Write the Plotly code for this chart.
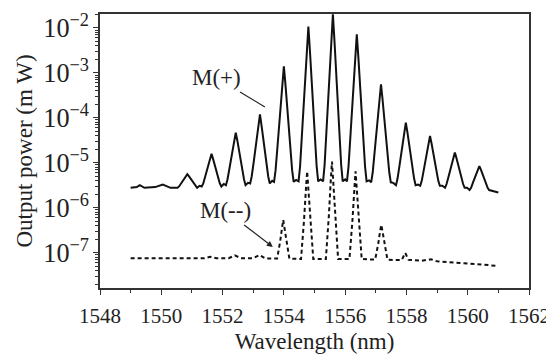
import plotly.graph_objects as go

# M(+) spectrum (solid line): wavelength (nm) and output power (mW)
wl_plus = [1549.0, 1549.2, 1549.3, 1549.45, 1549.8, 1550.05, 1550.3,
           1550.53, 1550.58, 1550.65, 1550.73, 1550.80, 1550.85, 1550.90, 1550.97, 1551.05, 1551.12, 1551.17,
           1551.25,
           1551.32, 1551.37, 1551.44, 1551.52, 1551.59, 1551.64, 1551.69, 1551.76, 1551.84, 1551.91, 1551.96,
           1552.04,
           1552.11, 1552.16, 1552.23, 1552.31, 1552.38, 1552.43, 1552.48, 1552.55, 1552.63, 1552.70, 1552.75,
           1552.83,
           1552.90, 1552.95, 1553.02, 1553.10, 1553.17, 1553.22, 1553.27, 1553.34, 1553.42, 1553.49, 1553.54,
           1553.62,
           1553.68, 1553.73, 1553.80, 1553.88, 1553.95, 1554.00, 1554.05, 1554.12, 1554.20, 1554.27, 1554.32,
           1554.40,
           1554.48, 1554.53, 1554.60, 1554.68, 1554.75, 1554.80, 1554.85, 1554.92, 1555.00, 1555.07, 1555.12,
           1555.20,
           1555.28, 1555.33, 1555.40, 1555.48, 1555.55, 1555.60, 1555.65, 1555.72, 1555.80, 1555.87, 1555.92,
           1556.00,
           1556.06, 1556.11, 1556.18, 1556.26, 1556.33, 1556.38, 1556.43, 1556.50, 1556.58, 1556.65, 1556.70,
           1556.78,
           1556.85, 1556.90, 1556.97, 1557.05, 1557.12, 1557.17, 1557.22, 1557.29, 1557.37, 1557.44, 1557.49,
           1557.57,
           1557.66, 1557.71, 1557.78, 1557.86, 1557.93, 1557.98, 1558.03, 1558.10, 1558.18, 1558.25, 1558.30,
           1558.38,
           1558.45, 1558.50, 1558.57, 1558.65, 1558.72, 1558.77, 1558.82, 1558.89, 1558.97, 1559.04, 1559.09,
           1559.17,
           1559.26, 1559.31, 1559.38, 1559.46, 1559.53, 1559.58, 1559.63, 1559.70, 1559.78, 1559.85, 1559.90,
           1559.98,
           1560.06, 1560.11, 1560.18, 1560.26, 1560.33, 1560.38, 1560.43, 1560.50, 1560.58, 1560.65, 1560.70,
           1560.85, 1561.0]
p_plus = [2.8e-6, 2.9e-6, 3.2e-6, 2.8e-6, 2.9e-6, 3.3e-6, 2.8e-6,
          2.8e-6, 3.0e-6, 3.5e-6, 4.3e-6, 5.1e-6, 5.6e-6, 5.1e-6, 4.3e-6, 3.5e-6, 3.0e-6, 2.8e-6,
          3.1e-6,
          3.0e-6, 3.5e-6, 5.2e-6, 8.1e-6, 1.23e-5, 1.6e-5, 1.23e-5, 8.1e-6, 5.2e-6, 3.5e-6, 3.0e-6,
          3.4e-6,
          3.2e-6, 4.3e-6, 7.9e-6, 1.6e-5, 3.2e-5, 4.7e-5, 3.2e-5, 1.6e-5, 7.9e-6, 4.3e-6, 3.2e-6,
          3.6e-6,
          3.5e-6, 5.0e-6, 1.1e-5, 2.9e-5, 6.9e-5, 1.2e-4, 6.9e-5, 2.9e-5, 1.1e-5, 5.0e-6, 3.5e-6,
          4.0e-6,
          3.8e-6, 6.9e-6, 2.7e-5, 1.3e-4, 5.8e-4, 1.4e-3, 5.8e-4, 1.3e-4, 2.7e-5, 6.9e-6, 3.8e-6,
          4.2e-6,
          3.9e-6, 8.5e-6, 5.5e-5, 4.5e-4, 3.2e-3, 1.07e-2, 3.2e-3, 4.5e-4, 5.5e-5, 8.5e-6, 3.9e-6,
          4.3e-6,
          3.9e-6, 9.1e-6, 6.8e-5, 6.5e-4, 5.4e-3, 2.0e-2, 5.4e-3, 6.5e-4, 6.8e-5, 9.1e-6, 3.9e-6,
          4.3e-6,
          3.9e-6, 8.3e-6, 4.8e-5, 3.5e-4, 2.3e-3, 7.2e-3, 2.3e-3, 3.5e-4, 4.8e-5, 8.3e-6, 3.9e-6,
          4.1e-6,
          3.7e-6, 6.2e-6, 2.0e-5, 7.6e-5, 2.6e-4, 5.6e-4, 2.6e-4, 7.6e-5, 2.0e-5, 6.2e-6, 3.7e-6,
          3.6e-6,
          3.2e-6, 4.5e-6, 9.3e-6, 2.2e-5, 4.9e-5, 7.9e-5, 4.9e-5, 2.2e-5, 9.3e-6, 4.5e-6, 3.2e-6,
          3.3e-6,
          3.1e-6, 4.0e-6, 7.2e-6, 1.45e-5, 2.7e-5, 4.0e-5, 2.7e-5, 1.45e-5, 7.2e-6, 4.0e-6, 3.1e-6,
          3.1e-6,
          2.8e-6, 3.4e-6, 5.1e-6, 8.3e-6, 1.3e-5, 1.7e-5, 1.3e-5, 8.3e-6, 5.1e-6, 3.4e-6, 2.8e-6,
          2.8e-6,
          2.5e-6, 2.8e-6, 3.8e-6, 5.2e-6, 7.1e-6, 8.5e-6, 7.1e-6, 5.2e-6, 3.8e-6, 2.8e-6, 2.5e-6,
          2.3e-6, 2.2e-6]

# M(-) spectrum (dotted line)
wl_minus = [1549.0, 1551.4, 1551.6, 1551.8, 1552.2, 1552.4, 1552.6, 1553.0, 1553.2, 1553.4,
            1553.78, 1553.82, 1553.88, 1553.94, 1553.98, 1554.02, 1554.08, 1554.14, 1554.18,
            1554.56, 1554.60, 1554.66, 1554.72, 1554.76, 1554.80, 1554.86, 1554.92, 1554.96,
            1555.37, 1555.41, 1555.47, 1555.53, 1555.57, 1555.61, 1555.67, 1555.73, 1555.77,
            1556.14, 1556.18, 1556.24, 1556.30, 1556.34, 1556.38, 1556.44, 1556.50, 1556.54,
            1556.98, 1557.02, 1557.08, 1557.14, 1557.18, 1557.22, 1557.28, 1557.34, 1557.38,
            1557.6, 1557.85, 1557.96, 1558.07, 1558.5, 1558.8, 1559.0, 1559.5, 1560.0, 1560.5, 1561.0]
p_minus = [7.6e-8, 7.6e-8, 8.2e-8, 7.6e-8, 7.6e-8, 8.8e-8, 7.6e-8, 7.6e-8, 9.0e-8, 7.5e-8,
           7.5e-8, 1.0e-7, 1.8e-7, 3.6e-7, 5.4e-7, 3.6e-7, 1.8e-7, 1.0e-7, 7.5e-8,
           7.3e-8, 1.4e-7, 5.5e-7, 2.6e-6, 6.5e-6, 2.6e-6, 5.5e-7, 1.4e-7, 7.3e-8,
           7.3e-8, 1.55e-7, 6.9e-7, 4.0e-6, 1.07e-5, 4.0e-6, 6.9e-7, 1.55e-7, 7.3e-8,
           7.3e-8, 1.4e-7, 5.5e-7, 2.6e-6, 6.5e-6, 2.6e-6, 5.5e-7, 1.4e-7, 7.3e-8,
           7.1e-8, 9.3e-8, 1.6e-7, 3.0e-7, 4.2e-7, 3.0e-7, 1.6e-7, 9.3e-8, 7.1e-8,
           6.9e-8, 7.0e-8, 1.0e-7, 7.0e-8, 6.7e-8, 7.2e-8, 6.5e-8, 6.2e-8, 5.9e-8, 5.5e-8, 5.1e-8]

x_ticks = [1548, 1550, 1552, 1554, 1556, 1558, 1560, 1562]

FONT = "Liberation Serif, Times New Roman, Times, serif"
TXT = "#222"

fig = go.Figure()
fig.add_trace(go.Scatter(x=wl_plus, y=p_plus, mode="lines", name="M(+)",
                         line=dict(color="#111", width=2)))
fig.add_trace(go.Scatter(x=wl_minus, y=p_minus, mode="lines", name="M(-)",
                         line=dict(color="#111", width=2, dash="4px,3px")))

fig.add_annotation(x=1553.38, y=-3.756, xref="x", yref="y", text="M(+)",
                   showarrow=True, arrowhead=0, arrowwidth=1.2, arrowcolor="#222",
                   ax=-48, ay=-29, font=dict(family=FONT, size=23, color=TXT))
fig.add_annotation(x=1553.64, y=-6.867, xref="x", yref="y", text="M(--)",
                   showarrow=True, arrowhead=2, arrowsize=1, arrowwidth=1.2, arrowcolor="#222",
                   ax=-47, ay=-36, font=dict(family=FONT, size=23, color=TXT))

# the page adds an 8 px body margin, so the figure is sized to fit inside the window
fig.update_layout(
    template="none",
    width=546, height=356,
    margin=dict(l=92, r=25, t=6, b=76),
    showlegend=False,
    font=dict(family=FONT, size=21, color=TXT),
)
fig.update_xaxes(
    range=[1548, 1562], tickvals=x_ticks, ticktext=[str(v) for v in x_ticks],
    tickfont=dict(family=FONT, size=21, color=TXT), ticklabelstandoff=3,
    ticks="outside", ticklen=5, tickwidth=1.2, tickcolor="#333",
    minor=dict(ticks="outside", ticklen=3, dtick=1, tick0=1548, tickcolor="#333", showgrid=False),
    showline=True, linecolor="#333", linewidth=1.5, mirror=True,
    showgrid=False, zeroline=False,
    title=dict(text="Wavelength (nm)", font=dict(family=FONT, size=23, color=TXT), standoff=6),
)
fig.update_yaxes(
    type="log", range=[-7.78, -1.69], dtick=1, exponentformat="power",
    tickfont=dict(family=FONT, size=21, color=TXT),
    ticks="outside", ticklen=5, tickwidth=1.2, tickcolor="#333",
    minor=dict(ticks="outside", ticklen=3, tickcolor="#333", showgrid=False),
    showline=True, linecolor="#333", linewidth=1.5, mirror=True,
    showgrid=False, zeroline=False,
    title=dict(text="Output power (m W)", font=dict(family=FONT, size=23, color=TXT), standoff=4),
)

fig.write_html("out.html")
